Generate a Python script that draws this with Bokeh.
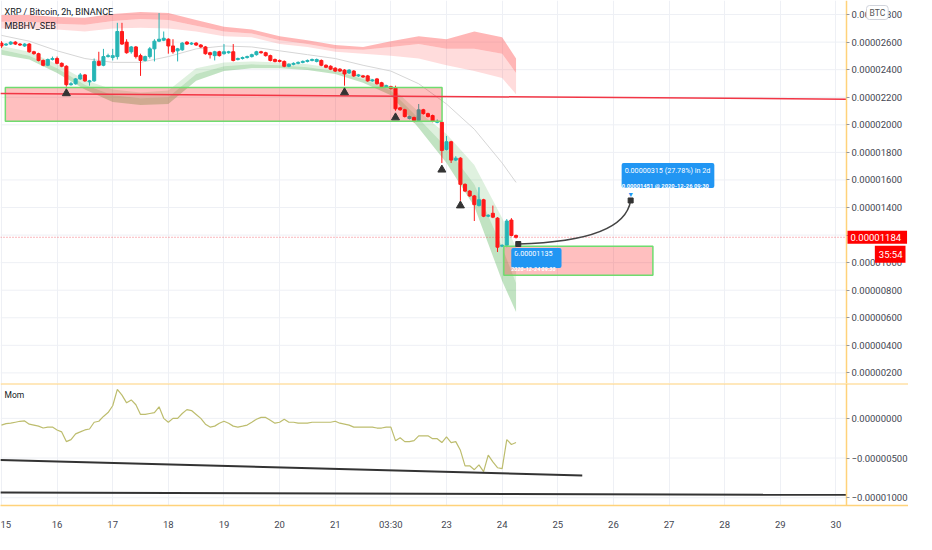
import numpy as np
from bokeh.plotting import figure
from bokeh.layouts import column
from bokeh.models import Range1d, FixedTicker, CustomJSTickFormatter, Span, Label, Grid
from bokeh.embed import file_html
from bokeh.resources import INLINE

SAT = 1e-8          # values below are in satoshi (1e-8 BTC)
FIRST_DAY = 15.0    # day-of-December of the first 2h candle
STEP_DAYS = 2 / 24

OPEN = [2593, 2579, 2586, 2600, 2586, 2572, 2586, 2530, 2516, 2467,
        2432, 2474, 2481, 2446, 2425, 2291, 2298, 2333, 2362, 2312,
        2319, 2460, 2432, 2495, 2488, 2495, 2677, 2600, 2530, 2565,
        2502, 2467, 2495, 2551, 2607, 2614, 2621, 2572, 2537, 2544,
        2600, 2586, 2593, 2579, 2565, 2523, 2502, 2530, 2516, 2523,
        2530, 2474, 2481, 2488, 2495, 2509, 2530, 2523, 2502, 2474,
        2467, 2460, 2425, 2439, 2446, 2453, 2460, 2467, 2460, 2467,
        2432, 2425, 2411, 2404, 2397, 2376, 2390, 2355, 2355, 2355,
        2319, 2333, 2305, 2277, 2277, 2270, 2123, 2109, 2046, 2053,
        2032, 2109, 2081, 2067, 2018, 2018, 1821, 1877, 1744, 1758,
        1568, 1519, 1484, 1414, 1456, 1337, 1358, 1323, 1119, 1126,
        1309, 1197]
HIGH = [2607, 2593, 2607, 2607, 2593, 2593, 2593, 2537, 2523, 2474,
        2481, 2495, 2495, 2453, 2432, 2312, 2340, 2376, 2369, 2326,
        2481, 2530, 2551, 2516, 2551, 2740, 2740, 2621, 2572, 2572,
        2516, 2502, 2565, 2621, 2811, 2677, 2628, 2621, 2558, 2600,
        2607, 2600, 2600, 2586, 2572, 2530, 2537, 2537, 2586, 2537,
        2586, 2488, 2495, 2502, 2516, 2537, 2537, 2530, 2509, 2481,
        2474, 2467, 2446, 2453, 2460, 2467, 2474, 2481, 2481, 2474,
        2439, 2432, 2418, 2411, 2404, 2404, 2397, 2369, 2362, 2362,
        2333, 2340, 2312, 2291, 2284, 2284, 2130, 2116, 2067, 2060,
        2151, 2116, 2088, 2074, 2039, 2025, 1919, 1884, 1772, 1765,
        1575, 1526, 1491, 1547, 1463, 1351, 1414, 1330, 1133, 1316,
        1323, 1204]
LOW = [2558, 2572, 2579, 2579, 2572, 2565, 2523, 2509, 2460, 2425,
       2425, 2467, 2439, 2418, 2277, 2284, 2291, 2326, 2312, 2284,
       2312, 2425, 2425, 2488, 2467, 2474, 2579, 2516, 2516, 2481,
       2355, 2460, 2481, 2460, 2600, 2607, 2516, 2516, 2460, 2537,
       2579, 2579, 2572, 2558, 2509, 2481, 2467, 2495, 2509, 2516,
       2460, 2467, 2474, 2481, 2488, 2502, 2516, 2495, 2460, 2453,
       2453, 2418, 2418, 2432, 2439, 2446, 2453, 2460, 2453, 2425,
       2411, 2397, 2383, 2383, 2284, 2369, 2347, 2347, 2340, 2312,
       2312, 2291, 2270, 2270, 2256, 2102, 2102, 2053, 2039, 2018,
       2025, 2074, 2053, 2018, 2011, 1723, 1814, 1723, 1737, 1449,
       1512, 1477, 1302, 1407, 1330, 1330, 1323, 1077, 1112, 1112,
       1190, 1175]
CLOSE = [2572, 2586, 2600, 2586, 2579, 2586, 2530, 2516, 2467, 2432,
         2474, 2481, 2446, 2425, 2291, 2298, 2333, 2362, 2319, 2319,
         2460, 2432, 2495, 2502, 2502, 2677, 2586, 2523, 2565, 2495,
         2467, 2495, 2551, 2607, 2621, 2628, 2572, 2530, 2551, 2593,
         2586, 2593, 2579, 2565, 2516, 2509, 2530, 2502, 2530, 2530,
         2467, 2481, 2488, 2495, 2509, 2530, 2523, 2502, 2467, 2460,
         2460, 2425, 2439, 2446, 2453, 2460, 2467, 2474, 2474, 2432,
         2418, 2404, 2390, 2390, 2369, 2397, 2355, 2362, 2347, 2319,
         2326, 2298, 2277, 2284, 2263, 2116, 2109, 2060, 2060, 2032,
         2109, 2081, 2060, 2025, 2025, 1814, 1877, 1744, 1758, 1568,
         1519, 1484, 1421, 1456, 1337, 1344, 1330, 1112, 1126, 1302,
         1197, 1184]
MOM = [-85, -67, -61, -49, -37, -33, -73, -85, -98, -122,
       -110, -110, -146, -171, -293, -268, -195, -171, -146, -134,
       -49, -37, 24, 73, 159, 366, 293, 195, 232, 171,
       49, 49, 61, 73, 146, 0, -49, 0, 0, 61,
       110, 98, 49, 0, -73, -110, -98, -61, -37, -61,
       -98, -110, -98, -85, -49, -12, 12, 12, -24, -61,
       -49, -12, -49, -49, -61, -61, -61, -49, -49, -49,
       -49, -49, -37, -61, -73, -85, -110, -110, -110, -110,
       -110, -122, -122, -110, -110, -281, -244, -293, -293, -281,
       -220, -220, -220, -256, -256, -305, -232, -305, -293, -403,
       -598, -598, -647, -586, -671, -464, -549, -622, -634, -268,
       -329, -305]

BAND_DAYS = [15.0, 15.5, 16.0, 16.5, 17.0, 17.5, 18.0, 18.5, 19.0, 19.5,
             20.0, 20.5, 21.0, 21.5, 22.0, 22.5, 23.0, 23.5, 24.0, 24.25]
U_TOP = [2797, 2797, 2783, 2776, 2804, 2818, 2811, 2761, 2712, 2691,
         2642, 2614, 2579, 2565, 2607, 2642, 2621, 2677, 2635, 2481]
U_MID = [2747, 2747, 2733, 2726, 2754, 2768, 2761, 2719, 2677, 2663,
         2614, 2586, 2551, 2544, 2565, 2586, 2551, 2551, 2516, 2376]
U_BOT = [2698, 2698, 2691, 2677, 2698, 2705, 2698, 2677, 2642, 2635,
         2586, 2565, 2530, 2516, 2502, 2481, 2432, 2390, 2340, 2221]
L_TOP = [2572, 2530, 2439, 2326, 2256, 2235, 2249, 2411, 2453, 2460,
         2453, 2439, 2411, 2362, 2277, 2095, 1933, 1709, 1323, 1112]
L_MID = [2544, 2502, 2411, 2291, 2214, 2193, 2200, 2369, 2425, 2439,
         2432, 2418, 2390, 2333, 2249, 2046, 1835, 1568, 1112, 853]
L_BOT = [2509, 2474, 2376, 2256, 2165, 2144, 2151, 2319, 2390, 2411,
         2411, 2397, 2369, 2305, 2214, 1976, 1723, 1407, 867, 642]
BASIS = [2649, 2607, 2537, 2481, 2453, 2453, 2495, 2551, 2572, 2565,
         2537, 2509, 2481, 2432, 2390, 2298, 2151, 1968, 1723, 1582]

TICK_DAYS = [15, 16, 17, 18, 19, 20, 21, 22, 23, 24, 25, 26, 27, 28, 29, 30]
TICK_LABELS = ["15", "16", "17", "18", "19", "20", "21", "03:30", "23", "24",
               "25", "26", "27", "28", "29", "30"]
PRICE_TICKS = [0.000002, 0.000004, 0.000006, 0.000008, 0.00001, 0.000012, 0.000014,
               0.000016, 0.000018, 0.00002, 0.000022, 0.000024, 0.000026, 0.000028]
MOM_TICKS = [0.0, -0.000005, -0.00001]

BOX1_DAYS = [15.07, 22.92]
BOX1_PRICES = [2025, 2270]
BOX2_DAYS = [24.03, 26.71]
BOX2_PRICES = [909, 1119]
HLINE_DAYS = [14.98, 30.19]
HLINE_PRICES = [2228, 2186]
TRI_DAYS = [16.1667, 21.1667, 22.0833, 22.9167, 23.25]
TRI_PRICES = [2228, 2235, 2053, 1674, 1414]
FC_DAYS = [24.29, 26.31]
FC_PRICES = [1135, 1451]
FC_CTRL_DAY, FC_CTRL_PRICE = 26.2, 1154
CUR_PRICE = 1184
TREND1_DAYS = [14.98, 25.44]
TREND1_VALS = [-525, -720]
TREND2_DAYS = [14.98, 30.19]
TREND2_VALS = [-934, -964]

X0, X1 = 14.983, 30.19          # visible time span (left edge .. price scale)
P_MIN, P_MAX = 123, 2902
M_MIN, M_MAX = -1098, 439

PLOT_W, SCALE_W = 846, 62       # chart area and price-scale strip, px
X_EXT = X1 + SCALE_W * (X1 - X0) / PLOT_W

FONT = "Roboto"
AXIS_YELLOW = "#ffd27a"
GRID = "#eef0f5"
RED = "#ff1a1a"
TEAL = "#26b5b5"
BLUE = "#2196f3"
TXT = "#434651"

t = FIRST_DAY + np.arange(len(CLOSE)) * STEP_DAYS
o = np.array(OPEN) * SAT
h = np.array(HIGH) * SAT
l = np.array(LOW) * SAT
c = np.array(CLOSE) * SAT
colors = [TEAL if cc >= oo else RED for oo, cc in zip(OPEN, CLOSE)]

fmt = CustomJSTickFormatter(code="return (tick < 0 ? '\\u2212' : '') + Math.abs(tick).toFixed(8);")


def style_y(p, ticks):
    ax = p.yaxis[0]
    ax.fixed_location = X1
    ax.ticker = FixedTicker(ticks=ticks)
    ax.formatter = fmt
    ax.axis_line_color = AXIS_YELLOW
    ax.axis_line_width = 1.5
    ax.major_tick_line_color = "#9598a1"
    ax.major_tick_out = 3
    ax.major_tick_in = 0
    ax.minor_tick_line_color = None
    ax.major_label_standoff = 2
    ax.major_label_text_font = FONT
    ax.major_label_text_font_size = "9.5px"
    ax.major_label_text_color = TXT


def add_grids(p, yticks):
    for g in p.grid:
        g.visible = False
    p.add_layout(Grid(dimension=0, ticker=FixedTicker(ticks=TICK_DAYS),
                      grid_line_color=GRID, grid_line_width=1))
    yt = np.array(yticks)
    p.segment(x0=np.full(len(yt), X0), y0=yt, x1=np.full(len(yt), X1), y1=yt,
              line_color=GRID, line_width=1)


main = figure(frame_width=PLOT_W + SCALE_W, frame_height=383, x_range=Range1d(X0, X_EXT),
              y_range=Range1d(P_MIN * SAT, P_MAX * SAT), y_axis_location="right",
              x_axis_location=None, output_backend="svg", toolbar_location=None,
              min_border_left=0, min_border_top=0, min_border_bottom=0, min_border_right=0)
main.outline_line_color = None
main.background_fill_color = "white"
style_y(main, PRICE_TICKS)
add_grids(main, PRICE_TICKS)

# indicator bands
bd = np.array(BAND_DAYS)
main.varea(bd, np.array(U_TOP) * SAT, np.array(U_MID) * SAT, fill_color="#ff5252", fill_alpha=0.42)
main.varea(bd, np.array(U_MID) * SAT, np.array(U_BOT) * SAT, fill_color="#ff5252", fill_alpha=0.2)
main.varea(bd, np.array(L_TOP) * SAT, np.array(L_MID) * SAT, fill_color="#4caf50", fill_alpha=0.18)
main.varea(bd, np.array(L_MID) * SAT, np.array(L_BOT) * SAT, fill_color="#4caf50", fill_alpha=0.35)
main.line(bd, np.array(BASIS) * SAT, line_color="#d6d6d6", line_width=1)

# current price dotted line
main.line([X0, X1], [CUR_PRICE * SAT, CUR_PRICE * SAT], line_color="#f23645",
          line_dash="1 2", line_width=1, line_alpha=0.7)

# candles
main.segment(t, h, t, l, line_color=colors, line_width=1)
main.vbar(x=t, width=0.055, top=np.maximum(o, c), bottom=np.minimum(o, c),
          fill_color=colors, line_color=colors, line_width=1)

# drawings
main.quad(left=[BOX1_DAYS[0]], right=[BOX1_DAYS[1]], bottom=[BOX1_PRICES[0] * SAT],
          top=[BOX1_PRICES[1] * SAT], fill_color="#ff0000", fill_alpha=0.25,
          line_color="#6fdc6f", line_width=1.5)
main.quad(left=[BOX2_DAYS[0]], right=[BOX2_DAYS[1]], bottom=[BOX2_PRICES[0] * SAT],
          top=[BOX2_PRICES[1] * SAT], fill_color="#ff0000", fill_alpha=0.25,
          line_color="#6fdc6f", line_width=1.5)
main.line(HLINE_DAYS, np.array(HLINE_PRICES) * SAT, line_color="#f23645", line_width=1.5)
main.scatter(TRI_DAYS, np.array(TRI_PRICES) * SAT, marker="triangle", size=8,
             fill_color="#333333", line_color="#333333")
main.quadratic(x0=[FC_DAYS[0]], y0=[FC_PRICES[0] * SAT], x1=[FC_DAYS[1]], y1=[FC_PRICES[1] * SAT],
               cx=[FC_CTRL_DAY], cy=[FC_CTRL_PRICE * SAT], line_color="#444444", line_width=1.5)
main.scatter(FC_DAYS, np.array(FC_PRICES) * SAT, marker="square", size=5,
             fill_color="#333333", line_color="#333333")

# texts
main.add_layout(Label(x=X0, y=P_MAX * SAT, x_offset=4, y_offset=-11, text="XRP / Bitcoin, 2h, BINANCE",
                      text_font=FONT, text_font_size="9px", text_color="#131722", text_baseline="middle"))
main.add_layout(Label(x=X0, y=P_MAX * SAT, x_offset=4, y_offset=-25, text="MBBHV_SEB",
                      text_font=FONT, text_font_size="9px", text_color="#131722", text_baseline="middle"))

fe_d, fe_p = FC_DAYS[1], FC_PRICES[1] * SAT
main.add_layout(Label(x=fe_d, y=fe_p, x_offset=-9, y_offset=25, text="0.00000315 (27.78%) in 2d",
                      text_font=FONT, text_font_size="7.2px", text_color="white", text_baseline="middle",
                      background_fill_color=BLUE, border_radius=2,
                      padding=dict(left=3, right=4, top=3, bottom=13)))
main.add_layout(Label(x=fe_d, y=fe_p, x_offset=-9, y_offset=14, text="0.00001451 @ 2020-12-26  09:30",
                      text_font=FONT, text_font_size="5.8px", text_font_style="bold", text_color="white",
                      text_baseline="middle"))
main.add_layout(Label(x=fe_d, y=fe_p, y_offset=6, text="\u25bc", text_align="center",
                      text_baseline="middle", text_font_size="7px", text_color=BLUE))

fs_d, fs_p = FC_DAYS[0], FC_PRICES[0] * SAT
main.add_layout(Label(x=fs_d, y=fs_p, x_offset=-7, y_offset=-14, text="0.00001135",
                      text_font=FONT, text_font_size="7.2px", text_color="white", text_baseline="middle",
                      background_fill_color=BLUE, border_radius=2,
                      padding=dict(left=3, right=9, top=3, bottom=12)))
main.add_layout(Label(x=fs_d, y=fs_p, x_offset=-7, y_offset=-25, text="2020-12-24 09:30",
                      text_font=FONT, text_font_size="5.4px", text_font_style="bold", text_color="white",
                      text_baseline="middle"))
main.add_layout(Label(x=fs_d, y=fs_p, y_offset=-6, text="\u25b2", text_align="center",
                      text_baseline="middle", text_font_size="7px", text_color=BLUE))

# price-scale badges
main.add_layout(Label(x=X1, y=CUR_PRICE * SAT, x_offset=1, text="0.00001184", text_font=FONT,
                      text_font_size="9.5px", text_color="white", text_baseline="middle",
                      background_fill_color="#ff0000", level="overlay",
                      padding=dict(left=3, right=6, top=3, bottom=3)))
main.add_layout(Label(x=X_EXT, y=CUR_PRICE * SAT, x_offset=-3, y_offset=-17, text="35:54", text_font=FONT,
                      text_font_size="9.5px", text_color="white", text_baseline="middle", text_align="right",
                      background_fill_color="#ff0000", level="overlay",
                      padding=dict(left=4, right=3, top=3, bottom=3)))
main.add_layout(Label(x=X1, y=P_MAX * SAT, x_offset=20, y_offset=-12, text="BTC", text_font=FONT,
                      text_font_size="8.5px", text_color="#555555", text_baseline="middle",
                      background_fill_color="white", border_line_color="#d1d4dc", border_radius=3,
                      level="overlay", padding=dict(left=3, right=3, top=2, bottom=2)))

# momentum pane
mom = figure(frame_width=PLOT_W + SCALE_W, frame_height=122, x_range=main.x_range,
             y_range=Range1d(M_MIN * SAT, M_MAX * SAT), y_axis_location="right",
             output_backend="svg", toolbar_location=None,
             min_border_left=0, min_border_top=0, min_border_bottom=0, min_border_right=0)
mom.outline_line_color = None
style_y(mom, MOM_TICKS)
add_grids(mom, MOM_TICKS)
xa = mom.xaxis[0]
xa.ticker = FixedTicker(ticks=TICK_DAYS)
xa.major_label_overrides = dict(zip(TICK_DAYS, TICK_LABELS))
xa.axis_line_color = AXIS_YELLOW
xa.axis_line_width = 1.5
xa.major_tick_line_color = None
xa.minor_tick_line_color = None
xa.major_label_standoff = 7
xa.major_label_text_font = FONT
xa.major_label_text_font_size = "9.5px"
xa.major_label_text_color = TXT

mom.add_layout(Span(location=M_MAX * SAT, dimension="width", line_color=AXIS_YELLOW, line_width=2))
mom.line(t, np.array(MOM) * SAT, line_color="#bdbd6e", line_width=1.2)
mom.line(TREND1_DAYS, np.array(TREND1_VALS) * SAT, line_color="#333333", line_width=2)
mom.line(TREND2_DAYS, np.array(TREND2_VALS) * SAT, line_color="#333333", line_width=2)
mom.add_layout(Label(x=X0, y=M_MAX * SAT, x_offset=4, y_offset=-11, text="Mom",
                     text_font=FONT, text_font_size="8.5px", text_color="#131722", text_baseline="middle"))

layout = column(main, mom, spacing=0)
open("out.html", "w").write(file_html(layout, INLINE))
